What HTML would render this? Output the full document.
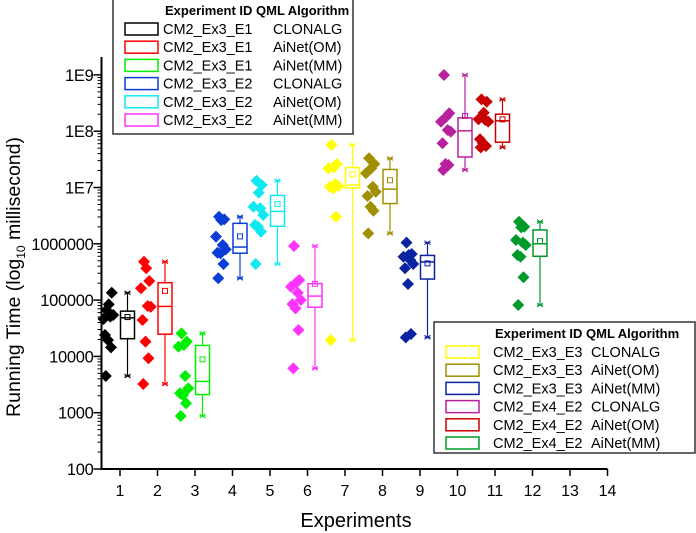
<!DOCTYPE html>
<html><head><meta charset="utf-8"><style>
html,body{margin:0;padding:0;background:#fff;}
svg{display:block;font-family:"Liberation Sans",Arial,sans-serif;}
</style></head><body>
<svg id="chart" width="696" height="533" viewBox="0 0 696 533"></svg>
<script>
const experiments = [1,2,3,4,5,6,7,8,9,10,11,12];
const seriesColors = ["#000000","#ff0000","#00ee00","#0a3cd8","#10e8f0","#ff33ff","#ffff00","#a09000","#0a23a0","#b8209c","#c80000","#009a2a"];
const exp1 = [66700,135000,84000,46100,50800,54300,24000,19500,14500,4490];
const exp2 = [481000,218000,367000,162000,78500,76000,44300,18300,9250,3230];
const exp3 = [25700,18300,15900,14900,4490,2710,2210,2060,1470,873];
const exp4 = [3030000,2720000,2630000,1340000,953000,798000,695000,677000,438000,244000];
const exp5 = [13200000,11100000,8100000,4560000,4270000,3250000,2160000,2010000,1640000,438000];
const exp6 = [914000,227000,204000,173000,135000,100500,85000,71400,29400,6140];
const exp7 = [56900000,26100000,22800000,21900000,11500000,10600000,10300000,9670000,3030000,19500];
const exp8 = [33000000,26100000,21900000,17900000,10300000,8400000,7060000,4560000,3870000,1530000];
const exp9 = [1050000,659000,632000,590000,515000,438000,367000,193000,25000,21800];
const exp10 = [996000000,208000000,181000000,148000000,105000000,98000000,61000000,26100000,25100000,20500000];
const exp11 = [368000000,334000000,213000000,163000000,158000000,148000000,72000000,61000000,54600000,51700000];
const exp12 = [2470000,2010000,1960000,1170000,1050000,953000,632000,590000,254000,81800];
const allSeries = [exp1,exp2,exp3,exp4,exp5,exp6,exp7,exp8,exp9,exp10,exp11,exp12];
const yTickValues = [100,1000,10000,100000,1000000,10000000,100000000,1000000000];
const yTickLabels = ["100","1000","10000","100000","1000000","1E7","1E8","1E9"];
const xTickValues = [1,2,3,4,5,6,7,8,9,10,11,12,13,14];
const legend1Ids = ["CM2_Ex3_E1","CM2_Ex3_E1","CM2_Ex3_E1","CM2_Ex3_E2","CM2_Ex3_E2","CM2_Ex3_E2"];
const legend1Algs = ["CLONALG","AiNet(OM)","AiNet(MM)","CLONALG","AiNet(OM)","AiNet(MM)"];
const legend2Ids = ["CM2_Ex3_E3","CM2_Ex3_E3","CM2_Ex3_E3","CM2_Ex4_E2","CM2_Ex4_E2","CM2_Ex4_E2"];
const legend2Algs = ["CLONALG"," AiNet(OM)"," AiNet(MM)","CLONALG","AiNet(OM)","AiNet(MM)"];

const NS="http://www.w3.org/2000/svg";
const svg=document.getElementById('chart');
const X0=101.5, YB=469;
function xs(v){return 120+(v-1)*37.5;}
function ys(v){return YB-(Math.log10(v)-2)*56.3;}
function mk(tag,attrs,parent){const e=document.createElementNS(NS,tag);for(const k in attrs)e.setAttribute(k,attrs[k]);(parent||svg).appendChild(e);return e;}
function quant(sorted,p){const pos=(sorted.length-1)*p,lo=Math.floor(pos),hi=Math.ceil(pos);return sorted[lo]+(sorted[hi]-sorted[lo])*(pos-lo);}

let ax=mk('line',{x1:X0,y1:57,x2:X0,y2:YB,stroke:'#000','stroke-width':2});


let bx=mk('line',{x1:X0-1,y1:YB,x2:xs(14),y2:YB,stroke:'#000','stroke-width':2});


yTickValues.forEach((v,i)=>{
  const y=ys(v);
  const t=mk('line',{x1:X0-8,y1:y,x2:X0,y2:y,stroke:'#000','stroke-width':1.5});
  
  
  const tx=mk('text',{x:X0-8,y:y+6,'text-anchor':'end','font-size':16.5,'letter-spacing':'-0.3',fill:'#000'});
  tx.textContent=yTickLabels[i];
  
  
  if(i<yTickValues.length-1){for(let m=2;m<=9;m++){const yy=ys(v*m);mk('line',{x1:X0-4,y1:yy,x2:X0,y2:yy,stroke:'#000','stroke-width':1});}}
});
xTickValues.forEach(v=>{
  const x=xs(v);
  mk('line',{x1:x,y1:YB,x2:x,y2:YB+7,stroke:'#000','stroke-width':1.5});
  const tx=mk('text',{x:x,y:YB+27,'text-anchor':'middle','font-size':16,fill:'#000'});
  tx.textContent=v;
  
  
});
const xt=mk('text',{x:356,y:527,'text-anchor':'middle','font-size':20,fill:'#000'});
xt.textContent='Experiments';


const yt=mk('text',{x:0,y:0,'text-anchor':'middle','font-size':19.5,fill:'#000',transform:'translate(20,277) rotate(-90)'});
yt.innerHTML='Running Time (log<tspan font-size="12" dy="5">10</tspan><tspan dy="-5"> millisecond)</tspan>';



const jitter=[-0.36,-0.22,-0.3,-0.44,-0.26,-0.18,-0.4,-0.32,-0.24,-0.38];
allSeries.forEach((vals,si)=>{
  const c=seriesColors[si], e=experiments[si];
  const g=mk('g',{});
  
  
  vals.forEach((v,k)=>{
    const cx=xs(e+jitter[k%jitter.length]), cy=ys(v), r=6;
    const d=mk('polygon',{points:`${cx},${cy-r} ${cx+r},${cy} ${cx},${cy+r} ${cx-r},${cy}`,fill:c},g);
    
    
  });
  const s=[...vals].sort((a,b)=>a-b);
  const q1=quant(s,0.25),q3=quant(s,0.75),med=quant(s,0.5),mn=s[0],mx=s[s.length-1];
  const mean=vals.reduce((a,b)=>a+b,0)/vals.length;
  const bxc=xs(e+0.2), w=14;
  mk('line',{x1:bxc,y1:ys(mx),x2:bxc,y2:ys(q3),stroke:c,'stroke-width':1.2},g);
  mk('line',{x1:bxc,y1:ys(q1),x2:bxc,y2:ys(mn),stroke:c,'stroke-width':1.2},g);
  [mx,mn].forEach(v=>{const y=ys(v);mk('path',{d:`M${bxc-3},${y-2}L${bxc+3},${y+2}M${bxc-3},${y+2}L${bxc+3},${y-2}M${bxc-3},${y}L${bxc+3},${y}`,stroke:c,'stroke-width':1,fill:'none'},g);});
  const box=mk('rect',{x:bxc-w/2,y:ys(q3),width:w,height:ys(q1)-ys(q3),fill:'none',stroke:c,'stroke-width':1.5},g);
  
  
  mk('line',{x1:bxc-w/2,y1:ys(med),x2:bxc+w/2,y2:ys(med),stroke:c,'stroke-width':1.5},g);
  mk('rect',{x:bxc-2.5,y:ys(mean)-2.5,width:5,height:5,fill:'none',stroke:c,'stroke-width':1},g);
});

function legend(x,y,w,h,ids,algs,cols,idX,algX,name,hd2X){
  const g=mk('g',{});
  
  
  mk('rect',{x:x,y:y,width:w,height:h,fill:'#fff',stroke:'#333','stroke-width':1.5},g);
  const hd=mk('text',{x:idX+2,y:y+16,'font-size':13,'font-weight':'bold',fill:'#000'},g);
  hd.textContent='Experiment ID';
  const hd2=mk('text',{x:hd2X,y:y+16,'font-size':13,'font-weight':'bold',fill:'#000'},g);
  hd2.textContent='QML Algorithm';
  ids.forEach((id,i)=>{
    const cy=y+30+i*18.2;
    mk('rect',{x:x+12,y:cy-6,width:33,height:12,fill:'#fff',stroke:cols[i],'stroke-width':1.5},g);
    const t=mk('text',{x:idX,y:cy+5,'font-size':14.5,fill:'#000'},g);t.textContent=id;
    
    
    const a=mk('text',{x:algX,y:cy+5,'font-size':14.5,fill:'#000'},g);a.textContent=algs[i];
  });
}
legend(113,-1,240,135,legend1Ids,legend1Algs,seriesColors.slice(0,6),163,273,'legend-top',256);
legend(434,322,261,131,legend2Ids,legend2Algs,seriesColors.slice(6,12),493,591,'legend-bottom',586);
</script>
</body></html>
